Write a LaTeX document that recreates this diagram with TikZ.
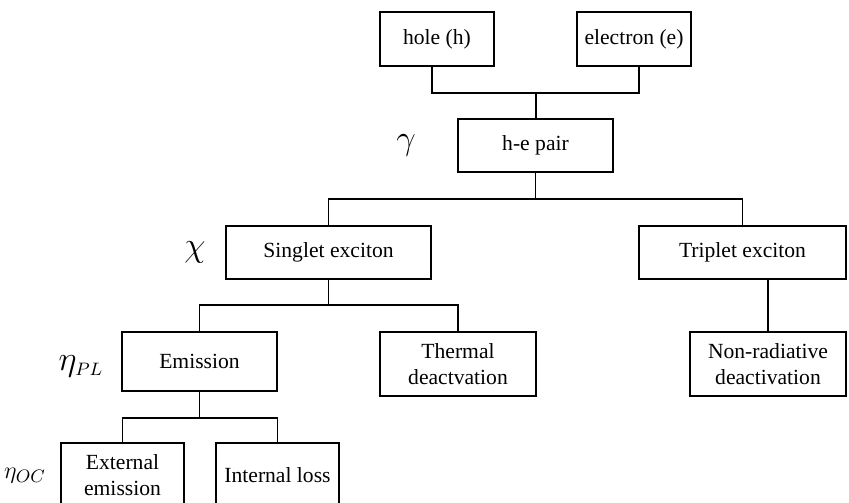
\documentclass[tikz,border=0pt]{standalone}
\usepackage{fontspec}
\setmainfont{Liberation Serif}
\usetikzlibrary{calc}
\tikzset{
  box/.style 2 args={draw, line width=0.65pt, align=center, inner sep=0pt,
    minimum width={#1*0.5pt}, minimum height={#2*0.5pt},
    font=\fontsize{10.8}{13}\selectfont},
  link/.style={line width=0.65pt},
  eff/.style={inner sep=0pt},
}
\begin{document}
\begin{tikzpicture}[x=0.5pt,y=-0.5pt]
\useasboundingbox (0,0) rectangle (849,502);
% boxes
\node[box={114}{54}] (hole) at (437,39) {hole (h)};
\node[box={114}{54}] (electron) at (634,39) {electron (e)};
\node[box={155}{53}] (hepair) at (535.5,145.5) {h-e pair};
\node[box={205}{53}] (singlet) at (328.5,252.5) {Singlet exciton};
\node[box={207}{53}] (triplet) at (742.5,252.5) {Triplet exciton};
\node[box={155}{59}] (emission) at (199.5,361.5) {Emission};
\node[box={156}{64}] (thermal) at (458,364) {Thermal\\deactvation};
\node[box={156}{64}] (nonrad) at (768,364) {Non-radiative\\deactivation};
\node[box={123}{64}] (external) at (122.5,475) {External\\emission};
\node[box={123}{64}] (internal) at (277.5,475) {Internal loss};
% efficiencies
\node[eff] (gam) at (406,145) {\fontsize{18}{18}\selectfont$\gamma$};
\node[eff] (chi) at (195,252) {\fontsize{17}{17}\selectfont$\chi$};
\node[eff] (etapl) at (81,366) {\fontsize{18}{18}\selectfont$\eta_{\scriptscriptstyle PL}$};
\node[eff] (etaoc) at (25,476) {\fontsize{12.5}{12.5}\selectfont$\eta_{OC}$};
% junctions
\coordinate (j1) at (536,93);
\coordinate (j2) at (536,199);
\coordinate (j3) at (329,305);
\coordinate (j4) at (200,418);
\draw[link] ([xshift=-2.5pt]hole.south) |- (j1) -| ([xshift=2.5pt]electron.south);
\draw[link] (j1) -- (j1 |- hepair.north);
\draw[link] (hepair.south) -- (hepair.south |- j2);
\draw[link] (singlet.north) |- (j2) -| (triplet.north);
\draw[link] (singlet.south) -- (singlet.south |- j3);
\draw[link] (emission.north) |- (j3) -| (thermal.north);
\draw[link] (emission.south) -- (emission.south |- j4);
\draw[link] (external.north) |- (j4) -| (internal.north);
\draw[link] (nonrad.north) -- (nonrad.north |- triplet.south);
\end{tikzpicture}
\end{document}
